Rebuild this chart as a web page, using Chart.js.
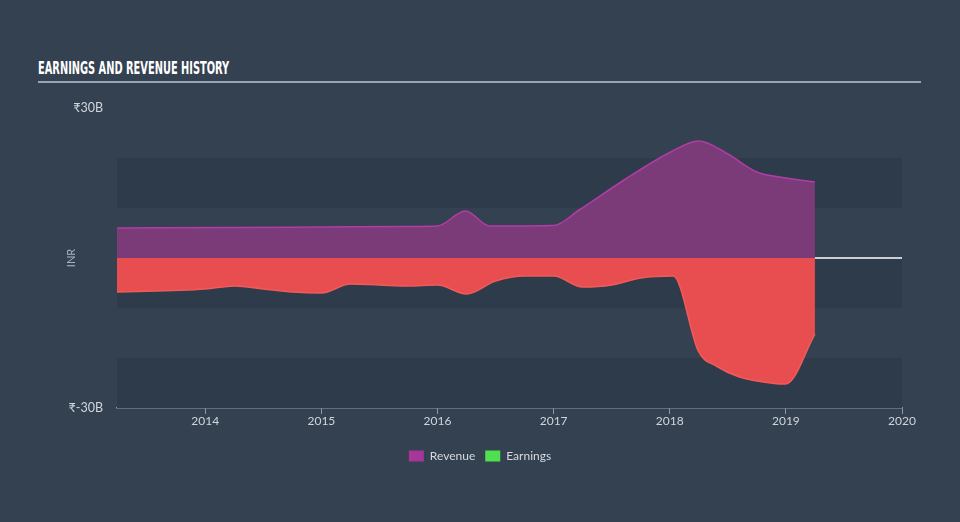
<!DOCTYPE html>
<html>
<head>
<meta charset="utf-8">
<script src="https://cdn.jsdelivr.net/npm/chart.js@4/dist/chart.umd.min.js"></script>
<style>
  html, body { margin: 0; padding: 0; background: #344151; }
  #wrap { position: relative; width: 960px; height: 522px; }
  #title {
    position: absolute; left: 38px; top: 58px;
    font-family: "DejaVu Sans Condensed", "Liberation Sans Narrow", sans-serif;
    font-weight: bold; font-size: 17px; color: #ffffff;
    transform-origin: 0 0; white-space: nowrap;
  }
  #rule { position: absolute; left: 38px; top: 81px; width: 883px; height: 2px; background: #9aa5b1; }
  canvas { position: absolute; left: 0; top: 0; }
</style>
</head>
<body>
<div id="wrap">
  <div id="title">EARNINGS AND REVENUE HISTORY</div>
  <div id="rule"></div>
  <canvas id="c" width="960" height="522"></canvas>
</div>
<script>
// decimal years, values in billions INR
let revYears = [2013.24, 2014.25, 2015.0, 2015.75, 2016.0, 2016.24, 2016.45, 2017.0, 2017.22, 2017.6, 2018.0, 2018.25, 2018.5, 2018.75, 2019.0, 2019.25];
let revenue  = [6.0, 6.1, 6.2, 6.3, 6.4, 9.4, 6.4, 6.5, 9.6, 15.5, 21.1, 23.4, 20.8, 17.2, 16.0, 15.2];

let earnYears = [2013.24, 2014.0, 2014.25, 2014.5, 2014.75, 2015.0, 2015.25, 2015.5, 2015.75, 2016.0, 2016.25, 2016.5, 2016.75, 2017.0, 2017.25, 2017.5, 2017.75, 2018.03, 2018.25, 2018.4, 2018.6, 2018.9, 2019.0, 2019.25];
let earnings  = [-6.8, -6.2, -5.6, -6.2, -6.8, -7.0, -5.2, -5.4, -5.6, -5.4, -7.2, -4.6, -3.6, -3.6, -5.8, -5.4, -4.0, -3.6, -18.8, -21.6, -23.8, -25.1, -25.2, -15.2];

let yearTicks = [2014, 2015, 2016, 2017, 2018, 2019, 2020];

let toPts = (xs, ys) => xs.map((x, i) => ({x: x, y: ys[i]}));

// squeeze the title to the condensed width of the original
let t = document.getElementById('title');
t.style.transform = 'scaleX(' + (191 / t.offsetWidth) + ')';

// dark horizontal bands behind the data
let bands = {
  id: 'bands',
  beforeDatasetsDraw(chart) {
    let ctx = chart.ctx, a = chart.chartArea, y = chart.scales.y;
    ctx.save();
    ctx.fillStyle = '#2e3b4b';
    [[20, 10], [0, -10], [-20, -30]].forEach(b => {
      let top = y.getPixelForValue(b[0]), btm = y.getPixelForValue(b[1]);
      ctx.fillRect(a.left, top, a.right - a.left, btm - top);
    });
    // zero line
    let z = y.getPixelForValue(0);
    ctx.strokeStyle = '#ffffff';
    ctx.lineWidth = 1.5;
    ctx.beginPath();
    ctx.moveTo(a.left, z);
    ctx.lineTo(a.right, z);
    ctx.stroke();
    ctx.restore();
  }
};

new Chart(document.getElementById('c'), {
  type: 'line',
  data: {
    datasets: [
      {
        label: 'Revenue',
        data: toPts(revYears, revenue),
        borderColor: '#b13da6',
        backgroundColor: '#7b3a78',
        borderWidth: 1.5,
        fill: 'origin',
        pointRadius: 0,
        cubicInterpolationMode: 'monotone'
      },
      {
        label: 'Earnings',
        data: toPts(earnYears, earnings),
        borderColor: '#f25a5a',
        backgroundColor: '#e84e4f',
        borderWidth: 1.5,
        fill: 'origin',
        pointRadius: 0,
        cubicInterpolationMode: 'monotone'
      },
      {
        label: 'zero',
        data: toPts([revYears[0], revYears[revYears.length - 1]], [0, 0]),
        borderColor: '#5f8a52',
        borderWidth: 1.5,
        fill: false,
        pointRadius: 0
      }
    ]
  },
  options: {
    responsive: false,
    animation: false,
    layout: { padding: { left: 0, right: 0, top: 108, bottom: 50 } },
    plugins: {
      tooltip: { enabled: false },
      legend: {
        position: 'bottom',
        labels: {
          color: '#d5dae0',
          font: { family: 'Lato', size: 12 },
          boxWidth: 15,
          boxHeight: 11,
          padding: 10,
          generateLabels: () => [
            { text: 'Revenue', fillStyle: '#a8359a', strokeStyle: '#a8359a', lineWidth: 0, fontColor: '#d5dae0' },
            { text: 'Earnings', fillStyle: '#4fe04f', strokeStyle: '#4fe04f', lineWidth: 0, fontColor: '#d5dae0' }
          ]
        }
      }
    },
    scales: {
      x: {
        type: 'linear',
        min: revYears[0],
        max: 2020,
        afterBuildTicks: s => { s.ticks = yearTicks.map(v => ({ value: v })); },
        afterFit: s => { s.height = 32; },
        border: { color: '#8d9cad', width: 1.5 },
        grid: { drawOnChartArea: false, color: '#8d9cad', tickLength: 6 },
        ticks: {
          color: '#cfd5dc',
          font: { family: 'Lato', size: 12 },
          padding: 0,
          maxRotation: 0,
          callback: v => String(v)
        }
      },
      y: {
        min: -30,
        max: 30,
        afterFit: s => { s.width = 117; },
        border: { display: false },
        grid: { display: false },
        ticks: {
          stepSize: 10,
          color: '#cfd5dc',
          font: { family: 'Lato', size: 12.5 },
          padding: 6,
          callback: v => v === 30 ? '₹30B' : (v === -30 ? '₹-30B' : '')
        },
        title: {
          display: true,
          text: 'INR',
          color: '#aab3bd',
          font: { family: 'Lato', size: 11 },
          padding: { top: 65, bottom: 0 }
        }
      },
      // empty right-hand axis keeps the right margin without shifting the legend
      yRight: {
        position: 'right',
        min: -30,
        max: 30,
        afterFit: s => { s.width = 58; },
        border: { display: false },
        grid: { display: false },
        ticks: { display: false }
      }
    }
  },
  plugins: [bands]
});
</script>
</body>
</html>
